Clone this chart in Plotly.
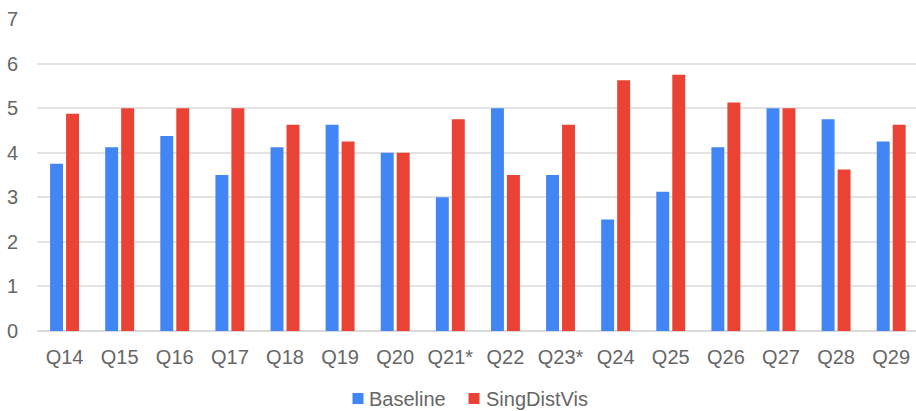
import plotly.graph_objects as go

questions = ["Q14", "Q15", "Q16", "Q17", "Q18", "Q19", "Q20", "Q21*",
             "Q22", "Q23*", "Q24", "Q25", "Q26", "Q27", "Q28", "Q29"]
baseline = [3.75, 4.125, 4.375, 3.5, 4.125, 4.625, 4.0, 3.0,
            5.0, 3.5, 2.5, 3.125, 4.125, 5.0, 4.75, 4.25]
singdistvis = [4.875, 5.0, 5.0, 5.0, 4.625, 4.25, 4.0, 4.75,
               3.5, 4.625, 5.625, 5.75, 5.125, 5.0, 3.625, 4.625]
y_ticks = [0, 1, 2, 3, 4, 5, 6, 7]
series_names = ["Baseline", "SingDistVis"]

BLUE = "#4285F4"
RED = "#EA4335"
TEXT = "#666666"
GRID = "#e3e3e3"
FONT = "Liberation Sans, Arial, sans-serif"

W, H = 916, 411
ML, MR, MT, MB = 37, 0, 19, 80
PW, PH = W - ML - MR, H - MT - MB


def px_x(x):
    return (x - ML) / PW


def px_y(y):
    return (H - MB - y) / PH


fig = go.Figure()
fig.add_trace(go.Bar(x=questions, y=baseline, name=series_names[0],
                     marker=dict(color=BLUE, line=dict(width=0))))
fig.add_trace(go.Bar(x=questions, y=singdistvis, name=series_names[1],
                     marker=dict(color=RED, line=dict(width=0))))

# legend drawn as compact square swatches with labels below the plot
shapes, annotations = [], []
for name, color, sq_left, txt_left in [(series_names[0], BLUE, 352.5, 367),
                                       (series_names[1], RED, 468.5, 484)]:
    shapes.append(dict(type="rect", xref="paper", yref="paper",
                       x0=px_x(sq_left), x1=px_x(sq_left + 11),
                       y0=px_y(393), y1=px_y(404),
                       fillcolor=color, line=dict(width=0)))
    annotations.append(dict(text=name, xref="paper", yref="paper",
                            x=px_x(txt_left), y=px_y(399), xanchor="left",
                            yanchor="middle", showarrow=False,
                            font=dict(family=FONT, size=20, color=TEXT)))

fig.update_layout(
    width=W, height=H,
    margin=dict(l=ML, r=MR, t=MT, b=MB),
    paper_bgcolor="white", plot_bgcolor="white",
    barmode="group", bargap=0.42, bargroupgap=0.19,
    font=dict(family=FONT, size=20, color=TEXT),
    showlegend=False,
    shapes=shapes, annotations=annotations,
    xaxis=dict(type="category", range=[-0.5, 15.45], showgrid=False,
               showline=False, ticks="", ticklabelstandoff=12,
               tickfont=dict(size=20, color=TEXT)),
    yaxis=dict(range=[0, 7], tickvals=y_ticks, showgrid=True, gridcolor=GRID,
               gridwidth=1.5, zeroline=True, zerolinecolor="#dadada",
               zerolinewidth=1.5, showline=False, ticks="",
               ticklabelstandoff=18, tickfont=dict(size=20, color=TEXT)),
)

fig.write_html("out.html")
